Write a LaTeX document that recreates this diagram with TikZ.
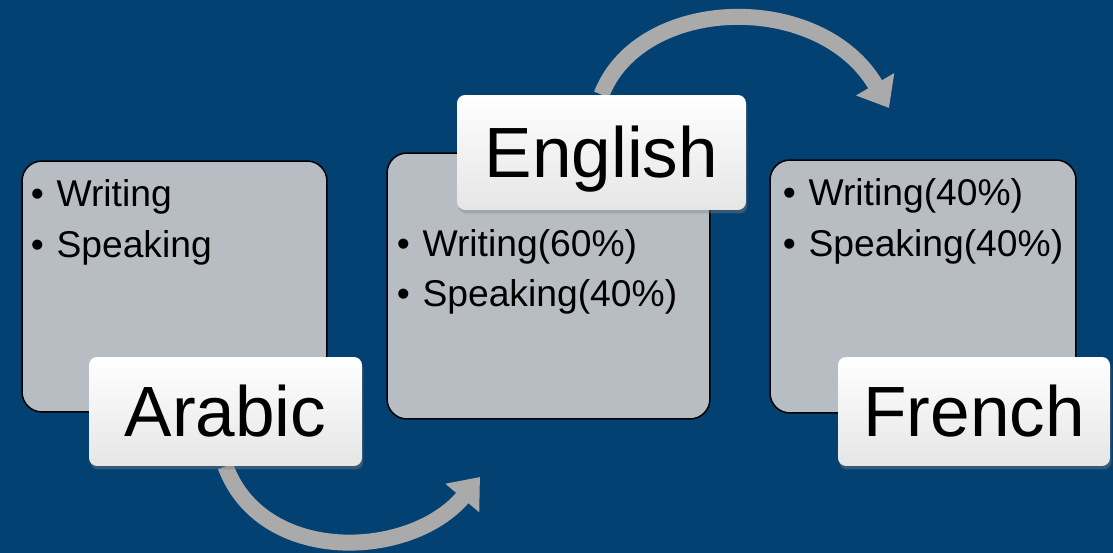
\documentclass[tikz,border=0pt]{standalone}
\usepackage{fontspec}
\setmainfont{Liberation Sans}
\usetikzlibrary{arrows.meta,shadows}
\definecolor{slideblue}{RGB}{3,65,114}
\definecolor{panelgray}{RGB}{184,188,195}
\definecolor{arrowgray}{RGB}{170,170,170}
\pgfdeclarelayer{back}
\pgfdeclarelayer{arrows}
\pgfsetlayers{back,arrows,main}

\begin{document}
\begin{tikzpicture}[x=0.02cm,y=-0.02cm,
  panel/.style={draw=black,line width=0.85pt,fill=panelgray,rounded corners=0.4cm},
  tag/.style={rounded corners=0.16cm,top color=white,bottom color=black!10,
    drop shadow={shadow xshift=0.8pt,shadow yshift=-2pt,opacity=0.4},
    font=\fontsize{40.5}{45}\selectfont,text height=29pt,text depth=0pt},
  item/.style={anchor=base west,inner sep=0,font=\fontsize{21.2}{25}\selectfont},
  curvearrow/.style={draw=arrowgray,line width=0.32cm,-{Triangle[length=0.55cm,width=0.85cm]}}]
\useasboundingbox (0,0) rectangle (1113,553);
\begin{pgfonlayer}{back}
\fill[slideblue] (0,0) rectangle (1113,553);
\node[panel,minimum width=6.1cm,minimum height=5.02cm] (arabicbox) at (174.5,286.5) {};
\node[panel,minimum width=6.46cm,minimum height=5.32cm] (englishbox) at (548.5,286) {};
\node[panel,minimum width=6.12cm,minimum height=5.06cm] (frenchbox) at (923,286.5) {};
\end{pgfonlayer}

% bullet points
\node[item] (a1) at (30.5,207) {\textbullet\hspace{0.34em}Writing};
\node[item] (a2) at (30.5,258) {\textbullet\hspace{0.34em}Speaking};
\node[item] (e1) at (396.5,257) {\textbullet\hspace{0.34em}Writing(60\%)};
\node[item] (e2) at (396.5,307) {\textbullet\hspace{0.34em}Speaking(40\%)};
\node[item] (f1) at (782.5,206) {\textbullet\hspace{0.34em}Writing(40\%)};
\node[item] (f2) at (782.5,257) {\textbullet\hspace{0.34em}Speaking(40\%)};

% language tags
\node[tag,minimum width=5.46cm,minimum height=2.18cm] (arabic) at (225.5,411.5) {Arabic};
\node[tag,minimum width=5.78cm,minimum height=2.3cm] (english) at (601.5,152.5) {English};
\node[tag,minimum width=5.44cm,minimum height=2.18cm] (french) at (974,411.5) {French};

\coordinate (tip1) at (480,477);
\coordinate (tip2) at (889,108);
\begin{pgfonlayer}{arrows}
\draw[curvearrow] (arabic.south) .. controls (262,565) and (410,560) .. (tip1);
\draw[curvearrow] (english.north) .. controls (640,-5) and (820,-10) .. (tip2);
\end{pgfonlayer}
\end{tikzpicture}
\end{document}
